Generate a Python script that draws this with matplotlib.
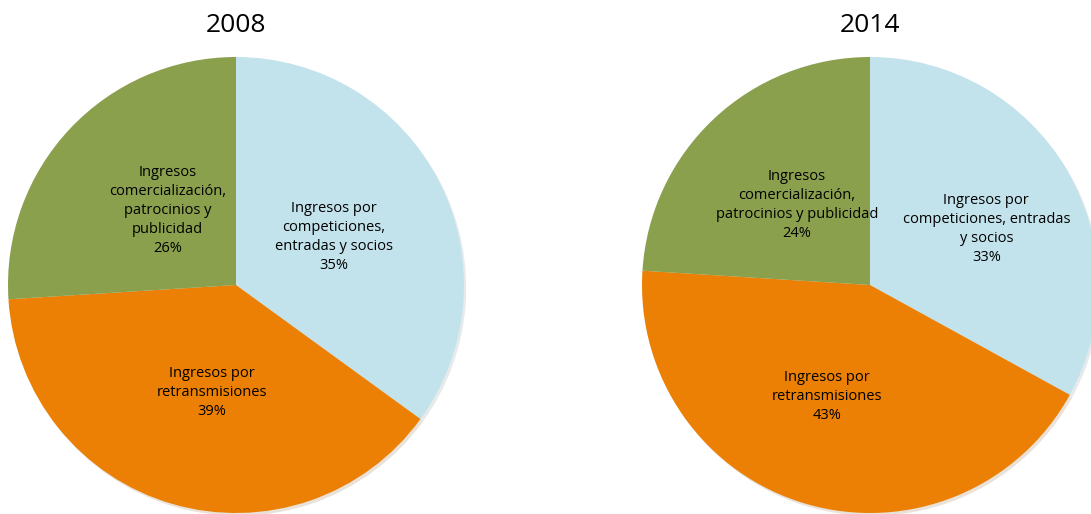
import matplotlib.pyplot as plt

# revenue split of the clubs, two years
years = ['2008', '2014']
categories = ['Ingresos por\ncompeticiones,\nentradas y socios',
              'Ingresos por\nretransmisiones',
              'Ingresos\ncomercialización,\npatrocinios y\npublicidad']
categories_2014 = ['Ingresos por\ncompeticiones, entradas\ny socios',
                   'Ingresos por\nretransmisiones',
                   'Ingresos\ncomercialización,\npatrocinios y publicidad']
values_2008 = [35, 39, 26]
values_2014 = [33, 43, 24]

colors = ['#C3E3EC', '#EB8004', '#8AA04C']

plt.rcParams['font.family'] = ['Open Sans', 'DejaVu Sans']

W, H = 1091, 514
fig = plt.figure(figsize=(W / 100, H / 100), dpi=100)

R = 228  # pie radius in pixels
centers = [(236, 285), (870, 285)]
label_pos = [
    [(0.43, 0.21), (-0.105, -0.47), (-0.30, 0.325)],
    [(0.51, 0.245), (-0.19, -0.49), (-0.32, 0.35)],
]
all_values = [values_2008, values_2014]
all_labels = [categories, categories_2014]

for i in range(2):
    cx, cy = centers[i]
    ax = fig.add_axes([(cx - R) / W, (H - cy - R) / H, 2 * R / W, 2 * R / H])
    ax.pie(all_values[i], colors=colors, startangle=90, counterclock=False,
           radius=1, wedgeprops={'linewidth': 0},
           shadow={'ox': 0.007, 'oy': -0.009, 'shade': 0.5, 'alpha': 0.15})
    ax.set_xlim(-1, 1)
    ax.set_ylim(-1, 1)
    ax.set_aspect('auto')
    ax.axis('off')
    for (x, y), lab, v in zip(label_pos[i], all_labels[i], all_values[i]):
        ax.text(x, y, f'{lab}\n{v}%', ha='center', va='center',
                fontsize=10.5, linespacing=1.36, color='black')
    fig.text(cx / W, 1 - 25 / H, years[i], ha='center', va='center',
             fontsize=19)

fig.savefig('out.png', dpi=100)
